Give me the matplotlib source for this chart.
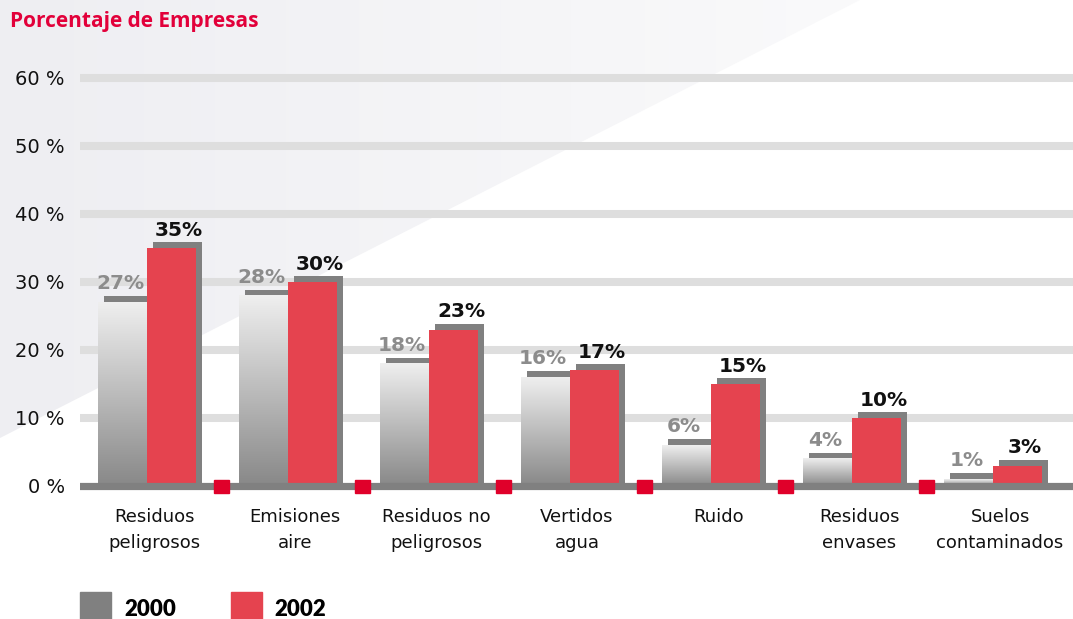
import numpy as np
import matplotlib
matplotlib.use("Agg")
import matplotlib.pyplot as plt
from matplotlib.colors import LinearSegmentedColormap
from matplotlib.patches import Rectangle, Polygon

# Data
categories = ["Residuos\npeligrosos", "Emisiones\naire", "Residuos no\npeligrosos",
              "Vertidos\nagua", "Ruido", "Residuos\nenvases", "Suelos\ncontaminados"]
vals_2000 = [27, 28, 18, 16, 6, 4, 1]
vals_2002 = [35, 30, 23, 17, 15, 10, 3]
yticks = [0, 10, 20, 30, 40, 50, 60]
ytick_labels = ["0 %", "10 %", "20 %", "30 %", "40 %", "50 %", "60 %"]

W, H = 1073, 619
fig = plt.figure(figsize=(W / 100, H / 100), dpi=100)
fig.patch.set_facecolor("white")

# faint diagonal background shading (upper left)
bg = fig.add_axes([0, 0, 1, 1], zorder=-10)
bg.set_xlim(0, W)
bg.set_ylim(H, 0)
bg.axis("off")
grad = np.linspace(0, 1, 256).reshape(1, -1)
bgcmap = LinearSegmentedColormap.from_list("bg", ["#eeeef2", "#fafafb"])
im = bg.imshow(grad, cmap=bgcmap, extent=[0, 860, H, 0], aspect="auto")
tri = Polygon([(0, 0), (860, 0), (0, 438)], closed=True, transform=bg.transData)
im.set_clip_path(tri)

ax = fig.add_axes([80 / W, 0.1929, 1 - 80 / W, 0.7031])
ax.set_facecolor("none")
for s in ax.spines.values():
    s.set_visible(False)

x = np.arange(len(categories))
w = 0.3475
dx, dy = 0.039, 0.88

# gridlines
for t in yticks[1:]:
    ax.axhline(t, color="#dedede", lw=5.8, zorder=1)

# shadows
ax.bar(x - w + dx, np.array(vals_2000) + dy, width=w, align="edge", color="#808080", zorder=2)
ax.bar(x + dx, np.array(vals_2002) + dy, width=w, align="edge", color="#808080", zorder=2)

# gray gradient bars
gcmap = LinearSegmentedColormap.from_list("g", ["#888888", "#efefef"])
vgrad = np.linspace(1, 0, 256).reshape(-1, 1)
for xi, v in zip(x, vals_2000):
    ax.imshow(vgrad, cmap=gcmap, extent=[xi - w, xi, 0, v], aspect="auto", zorder=3, vmin=0, vmax=1)

# red bars
ax.bar(x, vals_2002, width=w, align="edge", color="#e5434f", zorder=3)

# baseline
ax.axhline(0, color="#808080", lw=5.2, zorder=4)

# red separators
for xi in x[:-1]:
    ax.add_patch(Rectangle((xi + 0.53 - 0.053, -1.0), 0.106, 1.95, color="#e0002a", zorder=5))

# value labels
for xi, v in zip(x, vals_2000):
    ax.text(xi - 0.19, v + 1.9, f"{v}%", ha="center", va="baseline", fontsize=14.5,
            fontweight="bold", color="#8c8c8c", zorder=6)
for xi, v in zip(x, vals_2002):
    ax.text(xi + 0.227, v + 1.8, f"{v}%", ha="center", va="baseline", fontsize=14.5,
            fontweight="bold", color="#111111", zorder=6)

ax.set_yticks(yticks)
ax.set_yticklabels(ytick_labels, fontsize=14, color="#111111")
ax.set_xticks(x + 0.05)
ax.set_xticklabels(categories, fontsize=13, color="#111111", linespacing=1.55)
ax.tick_params(axis="y", length=0, pad=11)
ax.tick_params(axis="x", length=0, pad=6)

ax.set_xlim(-0.4752, 6.567)
ax.set_ylim(-2, 62)

# title
fig.text(10 / W, 1 - 21 / H, "Porcentaje de Empresas", ha="left", va="center",
         fontsize=15, fontfamily="Open Sans", fontweight="bold", color="#e2003a")

# legend
fig.patches.append(Rectangle((80 / W, 0), 31 / W, 27 / H, transform=fig.transFigure,
                             color="#808080", figure=fig))
fig.patches.append(Rectangle((231 / W, 0), 31 / W, 27 / H, transform=fig.transFigure,
                             color="#e5434f", figure=fig))
fig.text(124 / W, 1 - 609 / H, "2000", ha="left", va="center", fontsize=16,
         fontfamily="Lato", fontweight="heavy", color="black")
fig.text(274 / W, 1 - 609 / H, "2002", ha="left", va="center", fontsize=16,
         fontfamily="Lato", fontweight="heavy", color="black")

fig.savefig("out.png", dpi=100)
